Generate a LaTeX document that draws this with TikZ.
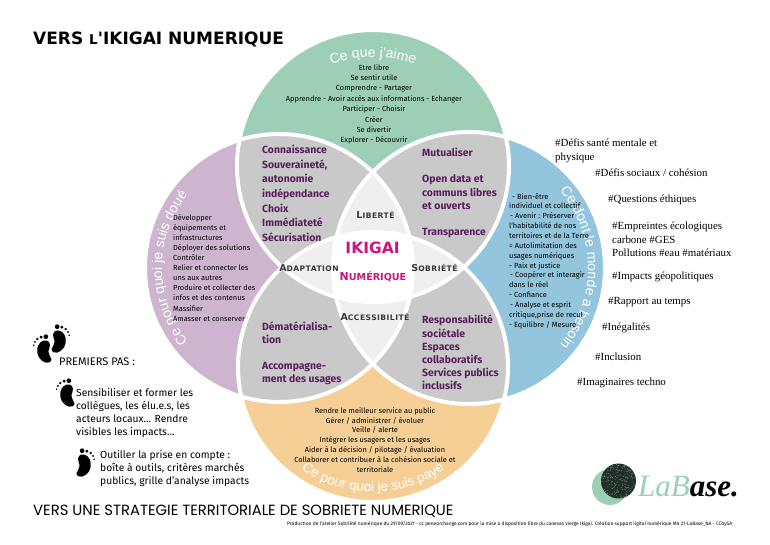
\documentclass[tikz,border=0pt]{standalone}
\usepackage{fontspec}
\setmainfont{Fira Sans}
\newfontfamily\serifhash{Liberation Serif}
\newfontfamily\arcfont{Liberation Sans}
\newfontfamily\headfont{Poppins}
\newfontfamily\wideb[LetterSpace=0]{DejaVu Sans}
\newfontfamily\widesp[LetterSpace=6]{DejaVu Sans}
\usetikzlibrary{decorations.text}
\definecolor{cgreen}{HTML}{9DCFB6}
\definecolor{cpurple}{HTML}{CDB5CF}
\definecolor{cblue}{HTML}{93C5DC}
\definecolor{corange}{HTML}{F5CF95}
\definecolor{cgray}{HTML}{C9C9C9}
\definecolor{clight}{HTML}{EFEFEF}
\definecolor{cplum}{HTML}{5A1F5E}
\definecolor{cmag}{HTML}{CE1180}
\definecolor{cink}{HTML}{3A3A3A}
\newcommand{\scapword}[2]{{\widesp\bfseries\fontsize{9.5}{9}\selectfont #1\fontsize{7.6}{9}\selectfont #2}}
\tikzset{
  x=1pt,y=1pt,
  body/.style={align=center,font=\fontsize{7.4}{#1}\selectfont,inner sep=0pt,text=black},
  bodyl/.style={align=left,font=\fontsize{7.4}{#1}\selectfont,inner sep=0pt,text=black,anchor=north west},
  plum/.style={align=left,font=\fontsize{10.4}{#1}\selectfont\bfseries,text=cplum,inner sep=0pt,anchor=north west},
  hash/.style={align=left,font=\serifhash\fontsize{10.9}{14}\selectfont,inner sep=0pt,anchor=west,text=black},
  pas/.style={align=left,font=\fontsize{10.3}{13.2}\selectfont,inner sep=0pt,anchor=north west,text=black},
  zone/.style={inner sep=0pt,text=cink},
  circ/.style={draw=white,line width=4pt},
  arclabel/.style 2 args={decorate,decoration={text along path,text align=center,text={|\arcfont\fontsize{#1}{#1}\selectfont\color{white}|#2}}},
}
\newcommand{\foot}[4]{\begin{scope}[shift={(#1,#2)},xscale=#3,yscale=#4]
\fill[black] (1,10) .. controls (6,11) and (8,7) .. (7,3) .. controls (5.5,0) and (5,-3) .. (7,-6) .. controls (9,-8) and (10,-11) .. (7,-13) .. controls (2,-15) and (-5,-10) .. (-6,-3) .. controls (-7,3) and (-4,9) .. (1,10) -- cycle;
\fill[black] (3,14) circle (2.5);
\fill[black] (-2,13.5) circle (1.7);
\fill[black] (-6,11.5) circle (1.4);
\fill[black] (-8.5,8.5) circle (1.1);
\fill[black] (-9.8,5) circle (.9);
\end{scope}}
\begin{document}
\begin{tikzpicture}
\useasboundingbox (0,0) rectangle (770,544);
\fill[white] (0,0) rectangle (770,544);
\coordinate (T) at (373,378);
\coordinate (B) at (373,177);
\coordinate (L) at (279,276);
\coordinate (R) at (469,276);
\coordinate (Tt) at (373,367);
\def\rT{136}\def\rB{135}\def\rL{134}\def\rR{136}
\fill[cgreen] (T) circle (\rT);
\fill[cpurple] (L) circle (\rL);
\fill[cblue] (R) circle (\rR);
\fill[corange] (B) circle (\rB);
\begin{scope}\clip (T) circle (\rT); \fill[cgray] (L) circle (\rL); \fill[cgray] (R) circle (\rR);\end{scope}
\begin{scope}\clip (B) circle (\rB); \fill[cgray] (L) circle (\rL); \fill[cgray] (R) circle (\rR);\end{scope}
\begin{scope}\clip (T) circle (\rT); \fill[clight] (B) circle (\rB);\end{scope}
\begin{scope}\clip (L) circle (\rL); \fill[clight] (R) circle (\rR);\end{scope}
\begin{scope}\clip (T) circle (\rT); \clip (B) circle (\rB); \clip (L) circle (\rL); \fill[white] (R) circle (\rR);\end{scope}
\draw[circ] (T) circle (\rT);
\draw[circ] (L) circle (\rL);
\draw[circ] (R) circle (\rR);
\draw[circ] (B) circle (\rB);

% curved labels
\path[arclabel={14}{Ce que j'aime}] (Tt) ++(135:120) arc (135:45:120);
\path[arclabel={14}{Ce pour quoi je suis doué}] (L) ++(228:117) arc (228:132:117);
\path[arclabel={14}{Ce dont le monde a besoin}] (R) ++(48:119) arc (48:-48:119);
\path[arclabel={13.5}{Ce pour quoi je suis payé}] (B) ++(-130:125) arc (-130:-50:125);

% green
\node[body=10.4] (g) at (374,439.5) {Etre libre\\Se sentir utile\\Comprendre - Partager\\Apprendre - Avoir accès aux informations - Echanger\\Participer - Choisir\\Créer\\Se divertir\\Explorer - Découvrir};
% purple
\node[bodyl=10.1] (p) at (173,330) {Développer\\équipements et\\infrastructures\\Déployer des solutions\\Contrôler\\Relier et connecter les\\uns aux autres\\Produire et collecter des\\infos et des contenus\\Massifier\\Amasser et conserver};
% blue
\node[bodyl=9.85] (b) at (509,351) {\hspace{3pt}- Bien-être\\individuel et collectif\\\hspace{1pt}- Avenir : Préserver\\l'habitabilité de nos\\territoires et de la Terre\\= Autolimitation des\\usages numériques\\- Paix et justice\\\hspace{1pt}- Coopérer et interagir\\dans le réel\\- Confiance\\\hspace{1pt}- Analyse et esprit\\critique,prise de recul\\- Equilibre / Mesure};
% orange
\node[body=9.9] (o) at (375,104) {Rendre le meilleur service au public\\Gérer / administrer / évoluer\\Veille / alerte\\Intégrer les usagers et les usages\\Aider à la décision / pilotage / évaluation\\Collaborer et contribuer à la cohésion sociale et\\territoriale};
% plum
\node[plum=14.6] (q1) at (262,399) {Connaissance\\Souveraineté,\\autonomie\\indépendance\\Choix\\Immédiateté\\Sécurisation};
\node[plum=13.2] (q2) at (422,396) {Mutualiser\\[13pt]Open data et\\communs libres\\et ouverts\\[13pt]Transparence};
\node[plum=13] (q3) at (262,222) {Dématérialisa-\\tion\\[13pt]Accompagne-\\ment des usages};
\node[plum=13.2] (q4) at (422,229) {Responsabilité\\sociétale\\Espaces\\collaboratifs\\Services publics\\inclusifs};
% zones
\node[zone] (z1) at (375.5,329) {\scapword{L}{IBERTÉ}};
\node[zone] (z2) at (309,276) {\scapword{A}{DAPTATION}};
\node[zone] (z3) at (434.5,276) {\scapword{S}{OBRIÉTÉ}};
\node[zone] (z4) at (375,227) {\scapword{A}{CCESSIBILITÉ}};
\node[inner sep=0pt,text=cmag,font=\wideb\bfseries\fontsize{15.5}{16}\selectfont] (ik) at (372.5,296) {IKIGAI};
\node[inner sep=0pt,text=cmag,font=\wideb\bfseries] (nu) at (373,267) {\fontsize{11}{12}\selectfont N\fontsize{9.6}{12}\selectfont UMÉRIQUE};

% hashtags
\node[hash] (h1) at (555,401) {\#Défis santé mentale et};
\node[hash] (h1b) at (555,386) {physique};
\node[hash] (h2) at (595,371) {\#Défis sociaux / cohésion};
\node[hash] (h3) at (608,344) {\#Questions éthiques};
\node[hash] (h4) at (612,317) {\#Empreintes écologiques};
\node[hash] (h4b) at (612,304) {carbone \#GES};
\node[hash] (h4c) at (612,291) {Pollutions \#eau \#matériaux};
\node[hash] (h5) at (612,267) {\#Impacts géopolitiques};
\node[hash] (h6) at (608,242) {\#Rapport au temps};
\node[hash] (h7) at (602,216) {\#Inégalités};
\node[hash] (h8) at (595,187) {\#Inclusion};
\node[hash] (h9) at (577,161) {\#Imaginaires techno};

% titles
\node[anchor=west,inner sep=0pt,font=\wideb\bfseries\fontsize{17}{18}\selectfont] (t1) at (33,505) {VERS {\fontsize{13.5}{18}\selectfont L}'IKIGAI NUMERIQUE};
\node[anchor=west,inner sep=0pt,font=\headfont\fontsize{14.8}{16}\selectfont] (t2) at (33,32.5) {VERS UNE STRATEGIE TERRITORIALE DE SOBRIETE NUMERIQUE};
\node[anchor=west,inner sep=0pt,font=\fontsize{4.9}{5}\selectfont] (t3) at (287,20) {Production de l'atelier Sobriété numérique du 29/09/2021 - cc peneorchange.com pour la mise à disposition libre du canevas vierge Ikigai. Création support ligital numérique MA 21-LaBase\_NA - CCbySA};

% left
\node[pas,font=\fontsize{11}{13}\selectfont] (pp) at (59,186) {PREMIERS PAS :};
\node[pas] (s1) at (76,156) {Sensibiliser et former les\\collègues, les élu.e.s, les\\acteurs locaux... Rendre\\visibles les impacts...};
\node[pas] (s2) at (100,94) {Outiller la prise en compte :\\boîte à outils, critères marchés\\publics, grille d'analyse impacts};

% footprints
\foot{43}{194}{.95}{.95}
\foot{60}{204}{-.95}{.95}
\foot{66}{150}{.95}{.95}
\foot{85}{80}{-.95}{.95}

% logo
\fill[cgreen] (610,57) circle (18);
\fill[black!78!cgreen] (618.5,63) circle (17.5);
\pgfmathsetseed{7}
\foreach \i in {1,...,160}{
  \pgfmathsetmacro{\ang}{360*rnd}
  \pgfmathsetmacro{\rad}{17*sqrt(rnd)}
  \ifodd\i
    \fill[cgreen!70!black] (618.5,63) ++(\ang:\rad) circle (.55);
  \else
    \fill[black!50] (618.5,63) ++(\ang:\rad) circle (.45);
  \fi
}
\node[anchor=base west,inner sep=0pt,font=\serifhash\itshape\fontsize{31}{31}\selectfont] (lb) at (638,48) {\textcolor{cgreen}{LaB}\textbf{ase.}};
\end{tikzpicture}
\end{document}
